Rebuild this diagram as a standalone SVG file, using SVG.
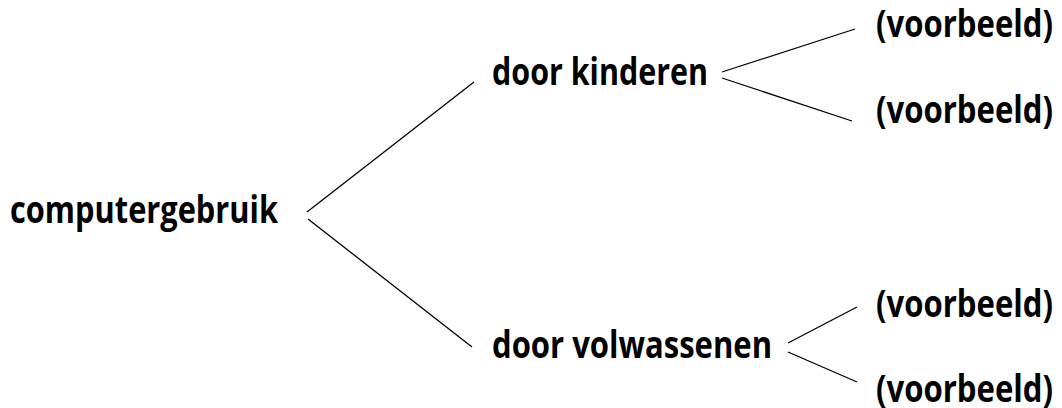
<svg xmlns="http://www.w3.org/2000/svg" width="1062" height="408" viewBox="0 0 1062 408">
<style>
.t{font-family:"Open Sans","Noto Sans","Liberation Sans",sans-serif;font-weight:700;font-size:37px;fill:#000}
.c line{stroke:#000;stroke-width:1.3;fill:none}
</style>
<rect width="1062" height="408" fill="#fff"/>
<g id="connectors" class="c">
<line x1="307" y1="212" x2="474" y2="82"/>
<line x1="308" y1="219" x2="472" y2="347"/>
<line x1="722" y1="72" x2="855" y2="29"/>
<line x1="722" y1="78" x2="852" y2="121"/>
<line x1="788" y1="343" x2="857" y2="307"/>
<line x1="788" y1="352" x2="857" y2="382"/>
</g>
<g id="n-computergebruik" transform="translate(10,223) scale(0.86,1)"><text class="t" x="0" y="0" textLength="311.6" lengthAdjust="spacingAndGlyphs">computergebruik</text></g>
<g id="n-kinderen" transform="translate(492,85) scale(0.86,1)"><text class="t" x="0" y="0" textLength="251.2" lengthAdjust="spacingAndGlyphs">door kinderen</text></g>
<g id="n-volwassenen" transform="translate(492,358) scale(0.86,1)"><text class="t" x="0" y="0" textLength="325.6" lengthAdjust="spacingAndGlyphs">door volwassenen</text></g>
<g id="n-vb1" transform="translate(876,37) scale(0.86,1)"><text class="t" x="0" y="0" textLength="205.8" lengthAdjust="spacingAndGlyphs">(voorbeeld)</text></g>
<g id="n-vb2" transform="translate(876,123) scale(0.86,1)"><text class="t" x="0" y="0" textLength="205.8" lengthAdjust="spacingAndGlyphs">(voorbeeld)</text></g>
<g id="n-vb3" transform="translate(876,317) scale(0.86,1)"><text class="t" x="0" y="0" textLength="205.8" lengthAdjust="spacingAndGlyphs">(voorbeeld)</text></g>
<g id="n-vb4" transform="translate(876,402) scale(0.86,1)"><text class="t" x="0" y="0" textLength="205.8" lengthAdjust="spacingAndGlyphs">(voorbeeld)</text></g>
</svg>
